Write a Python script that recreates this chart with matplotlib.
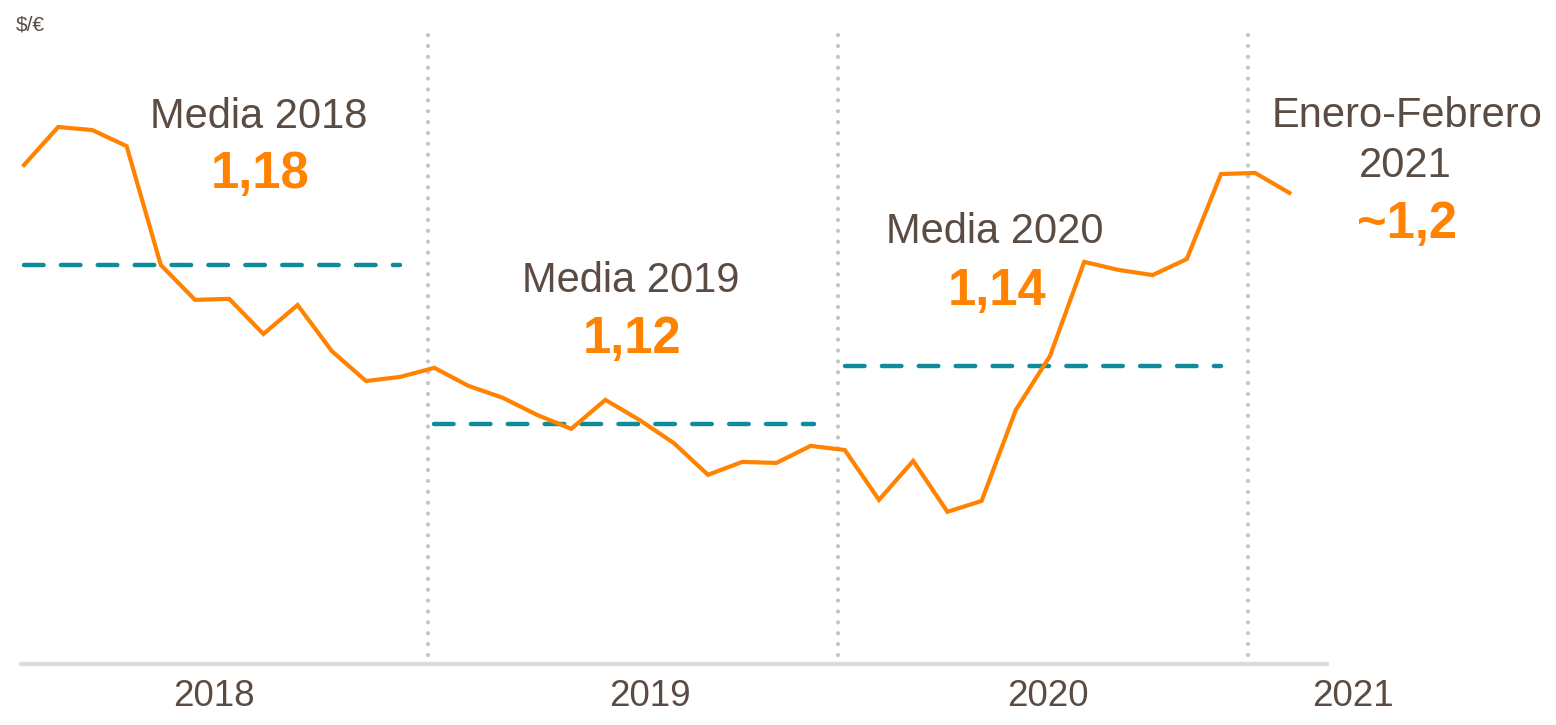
import matplotlib
matplotlib.use('Agg')
import matplotlib.pyplot as plt

plt.rcParams['font.family'] = ['Liberation Sans', 'DejaVu Sans']

# Monthly $/€ exchange rate, Jan 2018 - Feb 2021
rate = [1.2197, 1.2344, 1.2332, 1.2270, 1.1810, 1.1675, 1.1679, 1.1543, 1.1655, 1.1477, 1.1361, 1.1377,
        1.1412, 1.1342, 1.1296, 1.1230, 1.1176, 1.1288, 1.1210, 1.1121, 1.0998, 1.1048, 1.1044, 1.1110,
        1.1094, 1.0901, 1.1052, 1.0855, 1.0897, 1.1249, 1.1458, 1.1822, 1.1791, 1.1771, 1.1833, 1.2162,
        1.2166, 1.2089]
years = ['2018', '2019', '2020', '2021']
year_label_pos = [5.55, 18.3, 29.95, 38.85]
year_dividers = [11.8, 23.8, 35.8]
mean_values = [1.181, 1.1195, 1.142]
mean_spans = [(0, 11), (12, 23.1), (24, 35)]

orange = '#FF8200'
teal = '#0E8C9C'
brown = '#5B4C43'

W, H = 1556, 725
fig = plt.figure(figsize=(W / 100, H / 100), dpi=100)
ax = fig.add_axes([21 / W, (H - 664) / H, (1327 - 21) / W, (664 - 20) / H])
ax.set_xlim(-3 / 34.2, (1327 - 24) / 34.2)
ax.set_ylim(1.0266, 1.2758)

for s in ['top', 'right', 'left']:
    ax.spines[s].set_visible(False)
ax.spines['bottom'].set_color('#DCDCDC')
ax.spines['bottom'].set_linewidth(3.2)
ax.spines['bottom'].set_capstyle('round')
ax.set_xticks([])
ax.set_yticks([])

# year separators (dotted)
for d in year_dividers:
    ax.plot([d, d], [1.0301, 1.2738], color='#C4C4C4', linewidth=3.0,
            dashes=(0.01, 2.6), dash_capstyle='round', clip_on=False)

# yearly averages
for (x0, x1), m in zip(mean_spans, mean_values):
    ax.plot([x0, x1], [m, m], color=teal, linewidth=3.2, dashes=(4.4, 3.9),
            dash_capstyle='round', clip_on=False)

ax.plot(range(len(rate)), rate, color=orange, linewidth=3, clip_on=False,
        solid_joinstyle='miter')

for x, lab in zip(year_label_pos, years):
    ax.text(x, -0.065, lab, transform=ax.get_xaxis_transform(), ha='center',
            va='baseline', fontsize=26.5, color=brown)


def ftext(px, py, s, **kw):
    fig.text(px / W, 1 - py / H, s, ha='center', va='baseline', **kw)


fig.text(16 / W, 1 - 31 / H, '$/€', ha='left', va='baseline', fontsize=15, color=brown)

ftext(259, 128, 'Media 2018', fontsize=30, color=brown)
ftext(260, 188, '1,18', fontsize=36.5, color=orange, fontweight='bold')
ftext(631, 292, 'Media 2019', fontsize=30, color=brown)
ftext(632, 353, '1,12', fontsize=36.5, color=orange, fontweight='bold')
ftext(995, 243, 'Media 2020', fontsize=30, color=brown)
ftext(997, 305, '1,14', fontsize=36.5, color=orange, fontweight='bold')
ftext(1407, 127, 'Enero-Febrero', fontsize=30, color=brown)
ftext(1405, 177, '2021', fontsize=30, color=brown)
ftext(1407, 238, '~1,2', fontsize=36.5, color=orange, fontweight='bold')

fig.savefig('out.png', dpi=100)
